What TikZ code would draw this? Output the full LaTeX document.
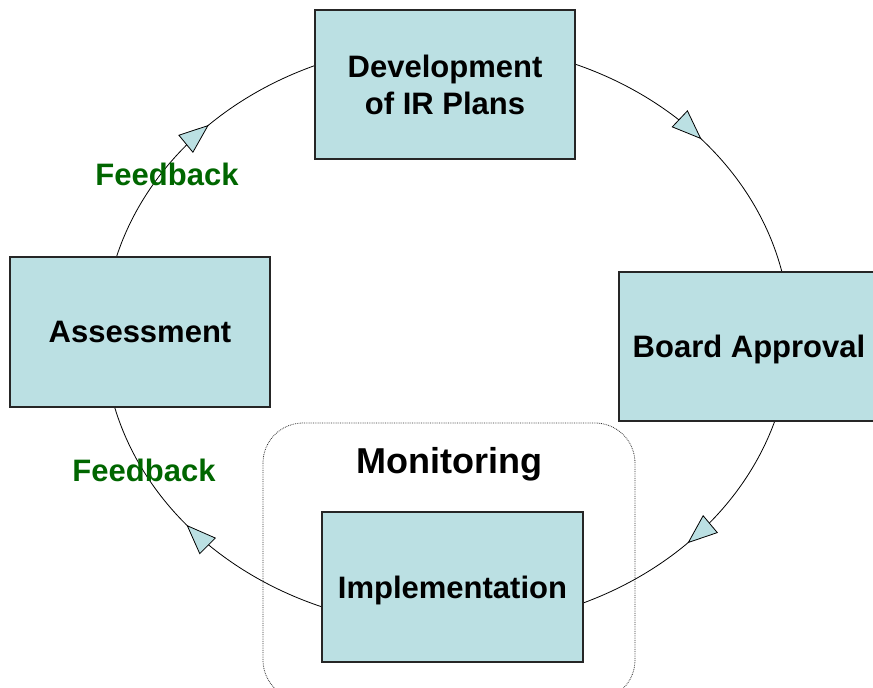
\documentclass[tikz,border=0pt]{standalone}
\usepackage{fontspec}
\setmainfont{Liberation Sans}
\usetikzlibrary{arrows.meta,decorations.markings,calc}
\definecolor{boxfill}{HTML}{BBE0E3}
\definecolor{fbgreen}{RGB}{0,102,0}
\tikzset{
  stagebox/.style={draw=black!85, line width=1.2pt, fill=boxfill, minimum width=260pt, minimum height=149pt, inner sep=0pt, align=center, font=\fontsize{31}{37}\selectfont\bfseries},
  fbtext/.style={text=fbgreen, inner sep=0pt, font=\fontsize{31}{37}\selectfont\bfseries},
  cycleline/.style={line width=0.8pt, black},
  midarrow/.style={postaction={decorate}, decoration={markings, mark=at position #1 with {\arrow{Triangle[length=30pt, width=23pt, fill=boxfill, line width=0.8pt]}}}},
}
\begin{document}
\begin{tikzpicture}[x=1pt,y=1pt]
\useasboundingbox (0,0) rectangle (873,688);
% ellipse centre
\coordinate (C) at (447,353);
\coordinate (p1) at ($(C)+(69:343 and 292)$);
\coordinate (p2) at ($(C)+(-16:343 and 292)$);
\coordinate (p3) at ($(C)+(249.5:343 and 292)$);
\coordinate (p4) at ($(C)+(166:343 and 292)$);
% monitoring frame
\draw[densely dotted, line width=0.8pt, black!80, rounded corners=40pt] (263,265) rectangle (635,-12);
% cycle arcs
\draw[cycleline, midarrow=0.49] (p1) arc[start angle=69, end angle=12, x radius=343, y radius=292];
\draw[cycleline, midarrow=0.55] (p2) arc[start angle=-16, end angle=-68, x radius=343, y radius=292];
\draw[cycleline, midarrow=0.53] (p3) arc[start angle=249.5, end angle=193, x radius=343, y radius=292];
\draw[cycleline, midarrow=0.57] (p4) arc[start angle=166, end angle=111.5, x radius=343, y radius=292];
% stages
\node[stagebox] (dev) at (445,603.5) {Development\\of IR Plans};
\node[stagebox, text depth=0pt] (board) at (749,341.5) {Board Approval};
\node[stagebox, minimum height=150pt] (assess) at (140,356) {Assessment};
\node[stagebox, text depth=0pt, minimum width=261pt, minimum height=150pt] (impl) at (452.5,101) {Implementation};
\node[inner sep=0pt, font=\fontsize{36}{40}\selectfont\bfseries] (mon) at (449,224) {Monitoring};
\node[fbtext] (fb1) at (167,514) {Feedback};
\node[fbtext] (fb2) at (144,218) {Feedback};
\end{tikzpicture}
\end{document}
